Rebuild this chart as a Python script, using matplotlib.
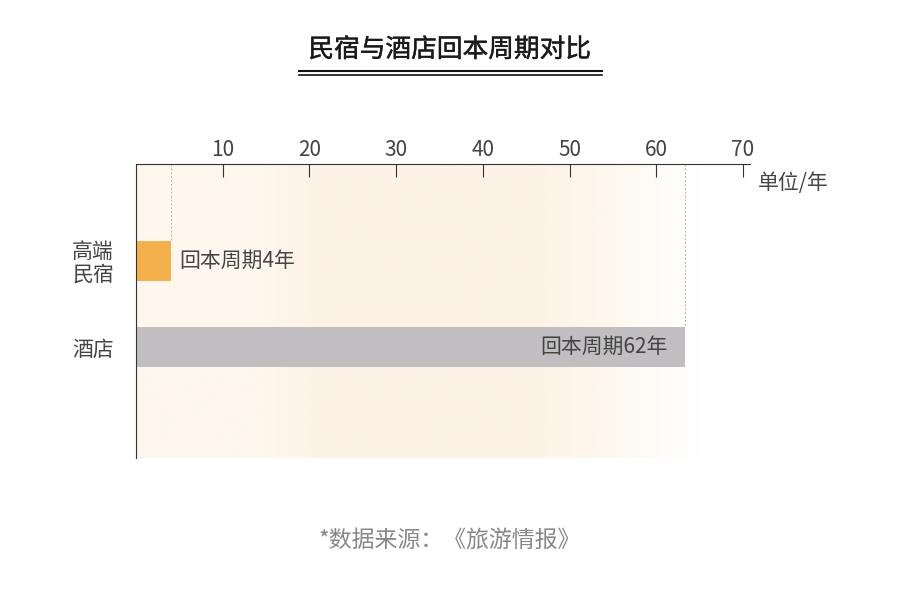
import matplotlib
matplotlib.use('Agg')
import matplotlib.pyplot as plt
import matplotlib.patheffects as pe
import numpy as np
from matplotlib.colors import LinearSegmentedColormap
from matplotlib.lines import Line2D

plt.rcParams['font.family'] = ['Noto Sans CJK SC', 'DejaVu Sans']

categories = ['高端\n民宿', '酒店']
payback_years = [4, 63.3]        # bar lengths as drawn
label_years = [4, 62]            # numbers written on the labels
bar_colors = ['#f4b04b', '#c0bec0']
xticks = [10, 20, 30, 40, 50, 60, 70]

title = '民宿与酒店回本周期对比'
unit = '单位/年'
source = '*数据来源：《旅游情报》'

fig = plt.figure(figsize=(9, 5.9), dpi=100)
fig.patch.set_facecolor('white')

# very faint panel behind the lower part
bg = fig.add_axes([128 / 900, 0, 662 / 900, 1 - 458 / 590], zorder=-2)
bg.set_facecolor('#fefdfd')
bg.set_axis_off()

ax = fig.add_axes([136 / 900, 1 - 458 / 590, 614 / 900, 294 / 590])
ax.set_xlim(0, 70.8)
ax.set_ylim(2.28, -1.12)

# warm cream gradient in the plot area
cmap = LinearSegmentedColormap.from_list('cream', ['#ffffff', '#fdf8ee', '#fdf2e6'])
xs = np.linspace(0, 1, 400)
prof = np.interp(xs, [0, 0.2, 0.3, 0.65, 0.78, 0.92, 1.0], [0.5, 0.55, 1.0, 1.0, 0.45, 0.0, 0.0])
ax.imshow(prof[None, :], cmap=cmap, vmin=0, vmax=1, aspect='auto',
          extent=[0, 70.8, 2.28, -1.12], zorder=0, interpolation='bilinear')

y = np.arange(len(categories))
ax.barh(y, payback_years, height=0.46, color=bar_colors, zorder=2)

# dashed guides from the axis to the bar ends
for yi, v in zip(y, payback_years):
    ax.vlines(v, -1.12, yi - 0.23, colors='#b0b0b0', linestyles=(0, (2, 2)), linewidth=0.7, zorder=1)

ax.text(payback_years[0] + 1, y[0], f'回本周期{label_years[0]}年', va='center', ha='left',
        fontsize=15, color='#444444', zorder=3)
ax.text(payback_years[1] - 2, y[1], f'回本周期{label_years[1]}年', va='center', ha='right',
        fontsize=15, color='#444444', zorder=3)

ax.set_yticks(y)
ax.set_yticklabels(categories, fontsize=15, color='#444444', linespacing=1.0, ha='center')
ax.tick_params(axis='y', length=0, pad=31)

ax.xaxis.tick_top()
ax.set_xticks(xticks)
ax.set_xticklabels([str(t) for t in xticks], fontsize=15, color='#444444')
ax.tick_params(axis='x', direction='in', length=9.5, width=0.8, color='#333333', pad=2)

for s in ['bottom', 'right']:
    ax.spines[s].set_visible(False)
for s in ['top', 'left']:
    ax.spines[s].set_color('#333333')
    ax.spines[s].set_linewidth(0.8)
ax.set_facecolor('none')

ax.text(1.013, 0.935, unit, transform=ax.transAxes, fontsize=15, color='#444444',
        ha='left', va='center')

fig.text(0.5, 1 - 50 / 590, title, ha='center', va='center', fontsize=18.5,
         color='#1a1a1a',
         path_effects=[pe.withStroke(linewidth=0.3, foreground='#1a1a1a')])
fig.add_artist(Line2D([299 / 900, 602 / 900], [1 - 71 / 590] * 2, color='#111111', lw=1.5))
fig.add_artist(Line2D([299 / 900, 602 / 900], [1 - 74.5 / 590] * 2, color='#111111', lw=1.2))

fig.text(0.5, 1 - 540 / 590, source, ha='center', va='center', fontsize=16.5, color='#888888')

fig.savefig('out.png', dpi=100)
